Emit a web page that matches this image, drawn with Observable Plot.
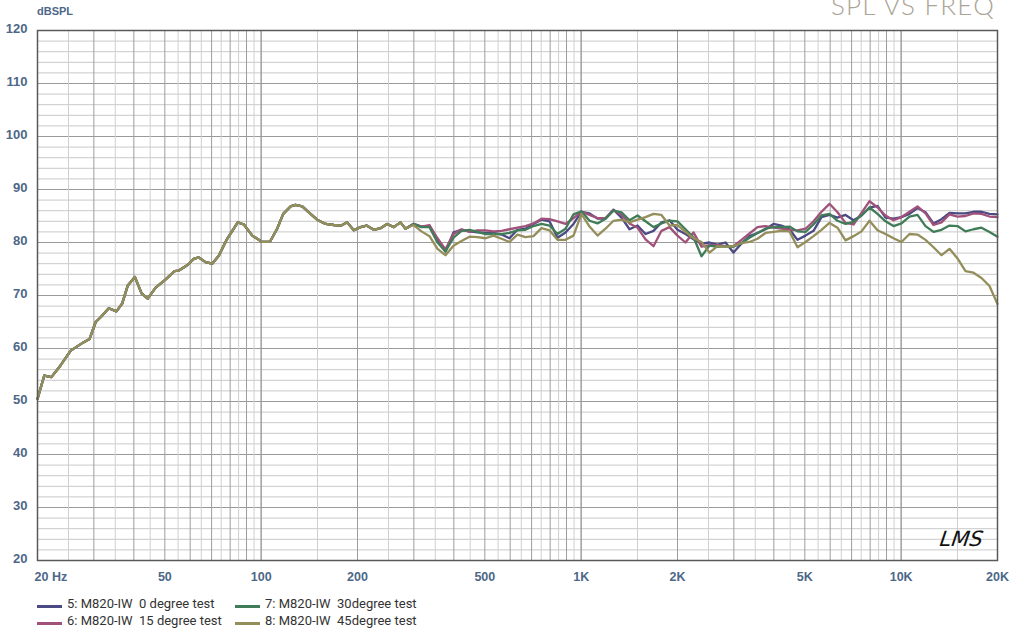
<!DOCTYPE html>
<html><head><meta charset="utf-8">
<script src="https://cdn.jsdelivr.net/npm/d3@7"></script>
<script src="https://cdn.jsdelivr.net/npm/@observablehq/plot@0.6"></script>
<style>
body{margin:0;background:#fff;}
#wrap{position:relative;width:1021px;height:629px;overflow:hidden;font-family:"Liberation Sans",Arial,sans-serif;}
#chart{position:absolute;left:0;top:0;}
#title{position:absolute;right:26px;top:-8px;font-family:Lato,"Open Sans",sans-serif;font-weight:300;font-size:26px;line-height:26px;color:#aaa496;letter-spacing:1.2px;white-space:nowrap;}
#ylab{position:absolute;left:37px;top:5px;font-weight:bold;font-size:11px;color:#4d6788;}
#sig{position:absolute;left:940px;top:527px;font-family:"DejaVu Sans",sans-serif;font-style:italic;font-weight:200;font-size:21px;color:#111;letter-spacing:0px;transform:skewX(-8deg);}
.leg{position:absolute;font-family:Roboto,"Liberation Sans",sans-serif;font-size:13px;line-height:16px;color:#333;white-space:pre;}
.sw{display:inline-block;width:25px;height:3px;vertical-align:middle;margin-right:5px;position:relative;top:2px;}
</style></head><body>
<div id="wrap">
<div id="chart"></div>
<div id="title">SPL VS FREQ</div>
<div id="ylab">dBSPL</div>
<div id="sig">LMS</div>
</div>
<script>
// Shared low-frequency part (all four curves coincide)
const baseFreq = [20, 21.0, 22.1, 23.6, 25.4, 27.9, 29.1, 30.4, 31.5, 33.4, 35.3, 36.8, 38.3, 40.3, 42.3, 44.2, 46.8, 50.2, 53.6, 55.3, 58.7, 61.6, 63.8, 67.0, 70.3, 73.7, 78.3, 84.5, 88.3, 93.8, 100.7, 106.4, 112.2, 117.2, 123.5, 128, 134.4, 140.9, 149.6, 158.9, 168.7, 177.9, 185.7, 194.7, 204.4, 213.4, 224.9, 236, 247.6, 259.6, 272.5];
const baseDb = [50.5, 54.9, 54.6, 56.8, 59.6, 61.2, 61.8, 65.0, 65.9, 67.6, 67.0, 68.5, 71.9, 73.5, 70.4, 69.4, 71.5, 73.0, 74.6, 74.7, 75.7, 76.9, 77.2, 76.3, 76.0, 77.5, 80.7, 83.8, 83.4, 81.3, 80.1, 80.1, 82.6, 85.4, 86.8, 87.1, 86.8, 85.7, 84.3, 83.5, 83.3, 83.2, 83.8, 82.3, 82.9, 83.2, 82.4, 82.7, 83.5, 82.9, 83.8];

// Upper part, where the curves separate
const hiFreq = [282.5, 299.2, 317, 335.7, 355.7, 376.7, 399, 422.7, 447.7, 474.3, 502.4, 532.1, 563.7, 597.1, 632.4, 669.9, 709.6, 751.6, 796.2, 843.4, 893.3, 946.3, 1002, 1062, 1125, 1191, 1262, 1337, 1416, 1500, 1589, 1683, 1782, 1888, 2000, 2118, 2244, 2377, 2518, 2667, 2825, 2992, 3170, 3357, 3557, 3767, 3990, 4227, 4477, 4743, 5024, 5322, 5637, 5971, 6325, 6700, 7097, 7517, 7962, 8434, 8934, 9463, 10024, 10618, 11247, 11913, 12619, 13367, 14159, 14998, 15887, 16828, 17825, 18881, 20000];
const db0 = [82.6, 83.5, 83.0, 83.1, 80.4, 78.3, 81.9, 82.4, 82.1, 81.9,
  81.8, 81.8, 81.5, 80.8, 82.4, 82.6, 83.5, 84.3, 84.0, 80.9,
  81.9, 83.5, 85.8, 85.5, 84.5, 84.5, 86.2, 84.7, 82.5, 83.2,
  81.6, 82.2, 83.8, 84.2, 82.4, 81.6, 80.6, 79.8, 80.0, 79.6,
  80.0, 78.1, 79.8, 81.2, 81.8, 82.5, 83.5, 83.2, 82.5, 80.5,
  81.3, 82.2, 84.8, 85.2, 84.7, 85.2, 84.2, 85.1, 86.6, 86.9,
  84.7, 84.5, 84.8, 85.4, 86.5, 85.7, 83.6, 84.4, 85.6, 85.5,
  85.5, 85.8, 85.8, 85.4, 85.3];
const db15 = [82.6, 83.5, 83.0, 83.3, 80.8, 78.7, 81.6, 82.5, 82.0, 82.3,
  82.3, 82.1, 82.2, 82.5, 82.8, 83.1, 83.6, 84.5, 84.4, 84.0,
  83.5, 84.6, 85.8, 85.2, 84.6, 84.6, 86.1, 85.3, 83.6, 82.8,
  80.6, 79.3, 82.2, 82.9, 81.3, 80.0, 81.9, 79.2, 79.5, 79.5,
  79.3, 79.3, 80.5, 81.7, 82.9, 83.1, 82.8, 82.6, 82.4, 82.3,
  82.6, 84.0, 85.8, 87.3, 85.7, 83.7, 83.4, 85.6, 87.8, 86.6,
  85.1, 84.2, 84.8, 85.8, 86.8, 85.5, 83.3, 83.8, 85.3, 84.9,
  85.0, 85.5, 85.4, 84.9, 84.8];
const db30 = [82.6, 83.5, 82.9, 82.9, 80.0, 78.3, 80.9, 82.2, 82.4, 82.0,
  81.6, 81.6, 81.6, 81.8, 82.3, 82.4, 83.1, 83.5, 83.2, 81.6,
  82.6, 85.3, 85.9, 84.1, 83.6, 84.5, 86.0, 85.7, 84.2, 85.1,
  84.0, 82.9, 83.6, 84.1, 84.0, 82.5, 81.0, 77.4, 79.4, 79.2,
  79.3, 79.2, 79.9, 80.9, 81.8, 82.6, 82.9, 82.9, 83.0, 82.1,
  82.0, 83.4, 85.1, 85.4, 84.1, 83.5, 83.9, 85.1, 86.6, 85.4,
  84.0, 83.1, 83.6, 84.9, 85.2, 83.1, 82.0, 82.4, 83.2, 83.1,
  82.1, 82.5, 82.8, 82.0, 81.1];
const db45 = [82.6, 83.3, 82.1, 81.2, 78.8, 77.6, 79.4, 80.3, 81.1, 81.0,
  80.8, 81.3, 80.7, 80.1, 81.5, 81.0, 81.2, 82.7, 82.3, 80.5,
  80.5, 81.3, 85.4, 83.0, 81.3, 82.6, 84.1, 84.3, 83.8, 84.3,
  84.8, 85.4, 85.2, 83.2, 83.3, 82.0, 80.8, 80.1, 78.1, 79.3,
  79.2, 79.3, 79.9, 80.1, 80.7, 81.8, 82.0, 82.2, 82.1, 79.1,
  80.1, 81.2, 82.4, 83.7, 82.8, 80.4, 81.2, 82.1, 84.1, 82.3,
  81.6, 80.8, 80.1, 81.6, 81.5, 80.5, 79.1, 77.6, 78.8, 77.0,
  74.6, 74.3, 73.3, 71.8, 68.4];

const seriesNames = ["5: M820-IW  0 degree test", "6: M820-IW  15 degree test", "7: M820-IW  30degree test", "8: M820-IW  45degree test"];
const seriesColors = ["#4b4a83", "#a0527a", "#3f7c57", "#948e5b"];
const seriesHi = [db0, db15, db30, db45];

const xTicks = [20, 50, 100, 200, 500, 1000, 2000, 5000, 10000, 20000];
const xTickLabels = ["20 Hz", "50", "100", "200", "500", "1K", "2K", "5K", "10K", "20K"];
const yTicks = [20, 30, 40, 50, 60, 70, 80, 90, 100, 110, 120];

// grid lines
const majorX = [], minorX = [];
for (const dec of [10, 100, 1000, 10000]) {
  for (let m = 1; m <= 10; m += 0.5) {
    const v = m * dec;
    if (v < 20 || v > 20000) continue;
    if (dec === 10000 && v > 10000 && v !== 15000 && v !== 20000) continue;
    if (Number.isInteger(m)) majorX.push(v); else minorX.push(v);
  }
}
const majorY = d3.range(20, 121, 10);
const minorY = d3.range(20, 121, 2).filter(v => v % 10 !== 0);

const seriesData = seriesNames.map((name, i) =>
  baseFreq.map((f, j) => ({f, db: baseDb[j]})).concat(hiFreq.map((f, j) => ({f, db: seriesHi[i][j]})))
);

const xLabelData = xTicks.map((t, i) => ({t, label: xTickLabels[i]}));

const chart = Plot.plot({
  width: 1021, height: 592,
  marginLeft: 37, marginRight: 24, marginTop: 30, marginBottom: 32,
  x: {type: "log", domain: [20, 20000], label: null, axis: null},
  y: {domain: [20, 120], label: null, axis: null},
  style: {fontFamily: '"Liberation Sans", Arial, sans-serif', color: "#4d6788", background: "transparent", overflow: "visible"},
  marks: [
    Plot.ruleY(minorY, {stroke: "#c9c9c9", strokeWidth: 1}),
    Plot.ruleY(majorY, {stroke: "#9a9a9a", strokeWidth: 1}),
    Plot.ruleX(minorX, {stroke: "#cfcfcf", strokeWidth: 1}),
    Plot.ruleX(majorX, {stroke: "#9d9d9d", strokeWidth: 1}),
    ...seriesData.map((d, i) => Plot.line(d, {x: "f", y: "db", stroke: seriesColors[i], strokeWidth: 2.3, strokeLinejoin: "round"})),
    Plot.frame({stroke: "#5a5a5a", strokeWidth: 1.5}),
    Plot.text(xLabelData.slice(0, 1), {x: "t", text: "label", frameAnchor: "bottom", textAnchor: "start", dx: -3, dy: 20, fontWeight: "bold", fontSize: 12.5, fill: "#4d6788"}),
    Plot.text(xLabelData.slice(1), {x: "t", text: "label", frameAnchor: "bottom", dy: 20, fontWeight: "bold", fontSize: 12.5, fill: "#4d6788"}),
    Plot.text(yTicks, {y: d => d, text: d => String(d), frameAnchor: "left", textAnchor: "end", dx: -10, dy: -2, fontWeight: "bold", fontSize: 13, fill: "#4d6788"})
  ]
});
document.getElementById("chart").appendChild(chart);

// legend
const wrap = document.getElementById("wrap");
const legPos = [[37, 596], [37, 613], [235, 596], [235, 613]];
seriesNames.forEach((name, i) => {
  const div = document.createElement("div");
  div.className = "leg";
  div.style.left = legPos[i][0] + "px";
  div.style.top = legPos[i][1] + "px";
  const sw = document.createElement("span");
  sw.className = "sw";
  sw.style.background = seriesColors[i];
  div.appendChild(sw);
  div.appendChild(document.createTextNode(name));
  wrap.appendChild(div);
});
</script>
</body></html>
